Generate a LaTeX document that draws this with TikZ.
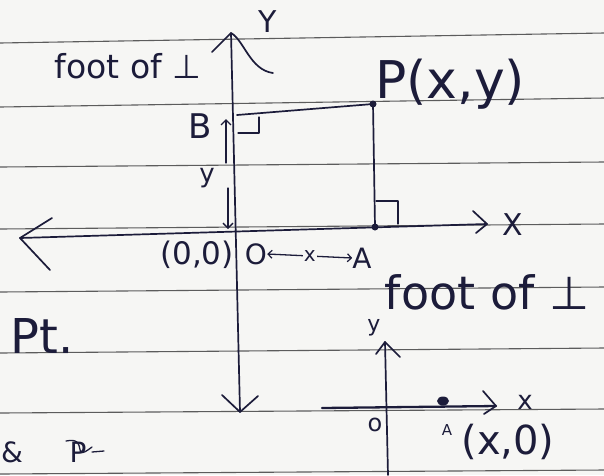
\documentclass[tikz,border=0pt]{standalone}
\usepackage{fontspec}
\setmainfont{DejaVu Sans}
\usetikzlibrary{arrows.meta}
\definecolor{paper}{HTML}{F6F6F4}
\definecolor{ink}{HTML}{1C1C3A}
\definecolor{rulecol}{HTML}{5C5C5C}
\begin{document}
\begin{tikzpicture}[x=1pt,y=-1pt,
  ruled/.style={rulecol, line width=1.1pt},
  axis/.style={ink, line width=1.7pt, line cap=round, line join=round},
  thin ink/.style={ink, line width=1.3pt, line cap=round, line join=round},
  hand/.style={ink, inner sep=0pt, font=\fontsize{#1}{#1}\selectfont},
  hand/.default=28,
  smallbarb/.style={-{Straight Barb[length=5pt,width=10pt,line width=1.3pt]}},
  dimarrow/.style={{Straight Barb[length=4pt,width=8pt,line width=1.2pt]}-{Straight Barb[length=4pt,width=8pt,line width=1.2pt]}}]
\fill[paper] (0,0) rectangle (604,475);
\useasboundingbox (0,0) rectangle (604,475);
% ruled paper lines
\foreach \l/\r in {43/33,107/98,167/162,229/224,292/287,353/348,413/409,474/470}
  \draw[ruled] (0,\l) -- (604,\r);

% ---------- main figure ----------
\coordinate (O) at (236,232);
\coordinate (P) at (373,104);
\coordinate (A) at (375,227);
\coordinate (B) at (237,115);
\coordinate (Ytop) at (231,33);
\coordinate (Ybot) at (240,412);
\coordinate (Xl) at (20,238);
\coordinate (Xr) at (487,224);

% y axis
\draw[axis] (Ybot) -- (Ytop);
\draw[axis] (212,52) -- (Ytop) .. controls (244,40) and (250,70) .. (273,73);
\draw[axis] (222,395) -- (Ybot) -- (258,396);
% x axis
\draw[axis] (Xl) -- (Xr);
\draw[axis] (52,218) -- (Xl) -- (50,270);
\draw[axis] (473,211) -- (Xr) -- (476,233);

% perpendiculars
\draw[axis] (B) -- (P);
\draw[axis] (P) -- (A);
\fill[ink] (P) circle (3.5);
\fill[ink] (A) circle (3.5);
% right-angle marks
\draw[thin ink] (238,133) -- (259,133) -- (259,117);
\draw[thin ink] (376,201) -- (398,201) -- (398,224);

% dimension arrows for y
\coordinate (yb1) at (226,163);
\coordinate (yb2) at (226,119);
\draw[thin ink, smallbarb] (yb1) -- (yb2);
\coordinate (yd1) at (228,188);
\coordinate (yd2) at (228,229);
\draw[thin ink, smallbarb] (yd1) -- (yd2);

% labels
\node[hand=33] (foot1) at (128,66) {foot of ⊥};
\node[hand=30] (Ylab) at (268,22) {Y};
\node[hand=34] (Blab) at (200,126) {B};
\node[hand=26] (ylab) at (207,178) {y};
\node[hand=52, anchor=west] (Plab) at (375,84) {P(x,y)};
\node[hand=30] (Xlab) at (513,225) {X};
\node[hand=31] (origin) at (197,255) {(0,0)};
\node[hand=28] (Olab) at (256,254) {O};
\node[hand=28] (Alab) at (362,258) {A};
\draw[thin ink, dimarrow] (Olab.east) -- (Alab.west)
  node[midway, hand=20, fill=paper, inner sep=1pt] (xlab) {x};
\node[hand=46] (foot2) at (487,292) {foot of ⊥};
\node[hand=48] (Pt) at (42,336) {Pt.};
\node[hand=28] (amp) at (12,452) {\&};
\node[hand=28] (scrib) at (78,452) {P};
\draw[thin ink] (66,441) .. controls (90,436) and (70,464) .. (92,447);
\draw[thin ink] (92,452) -- (104,451);

% ---------- small figure ----------
\coordinate (o2) at (387,407);
\coordinate (v2top) at (385,342);
\coordinate (v2bot) at (388,475);
\coordinate (h2l) at (322,408);
\coordinate (h2r) at (496,406);
\coordinate (A2) at (443,401);
\draw[axis] (v2bot) -- (v2top);
\draw[axis] (376,354) -- (v2top) -- (400,357);
\draw[ink, line width=2.3pt, line cap=round] (h2l) -- (h2r);
\draw[axis] (483,391) -- (h2r) -- (484,414);
\fill[ink] (A2) ellipse (6 and 4.5);
\node[hand=22] (y2) at (374,328) {y};
\node[hand=26] (x2) at (525,402) {x};
\node[hand=24] (o2lab) at (375,425) {o};
\node[hand=15] (A2lab) at (447,430) {A};
\node[hand=40] (A2coord) at (508,442) {(x,0)};
\end{tikzpicture}
\end{document}
